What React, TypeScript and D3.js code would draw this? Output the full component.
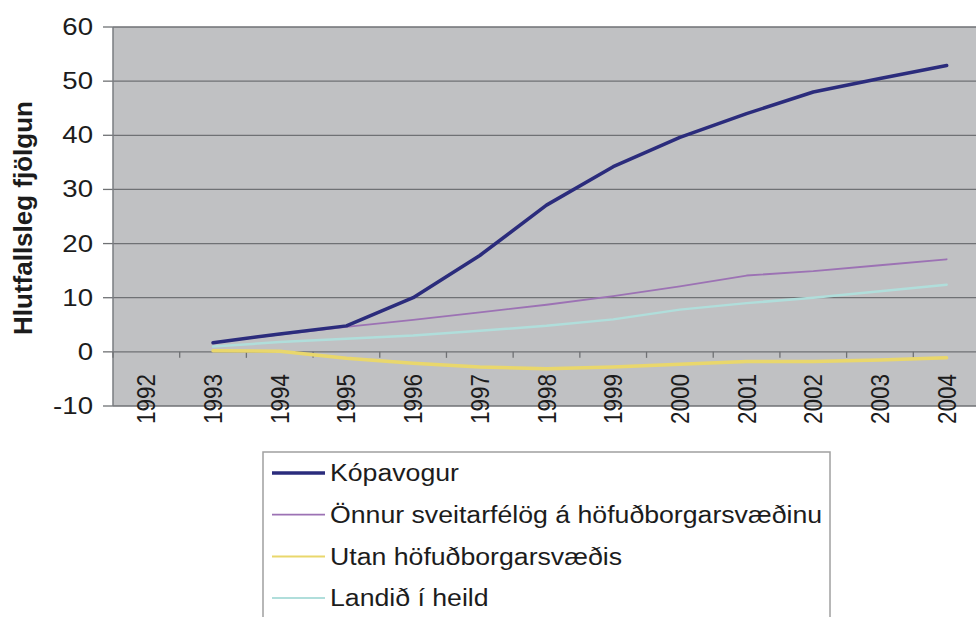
import React from "react";
import * as d3 from "d3";

const years = ["1992","1993","1994","1995","1996","1997","1998","1999","2000","2001","2002","2003","2004"];
const kopavogur = [null, 1.7, 3.3, 4.8, 10, 17.8, 27.1, 34.2, 39.6, 44, 48, 50.5, 52.9];
const onnur = [null, 1.7, 3.2, 4.6, 5.9, 7.3, 8.7, 10.3, 12.1, 14.1, 14.9, 16, 17.1];
const utan = [null, 0.2, 0.1, -1.2, -2.1, -2.8, -3.1, -2.8, -2.3, -1.8, -1.8, -1.5, -1.1];
const landid = [null, 1.0, 1.8, 2.4, 3.0, 3.9, 4.8, 6.0, 7.8, 9.0, 10.0, 11.2, 12.4];
const yTicks = [-10, 0, 10, 20, 30, 40, 50, 60];
const seriesNames = ["Kópavogur", "Önnur sveitarfélög á höfuðborgarsvæðinu", "Utan höfuðborgarsvæðis", "Landið í heild"];

const W = 976, H = 617;
const L = 113, R = 980, T = 27, B = 406;

export default function App() {
  const x = d3.scaleBand<string>().domain(years).range([L, R]).padding(0);
  const y = d3.scaleLinear().domain([-10, 60]).range([B, T]);
  const cx = (i: number) => (x(years[i]) as number) + x.bandwidth() / 2;

  const series = [
    { name: seriesNames[0], data: kopavogur, color: "#2b2c7c", width: 3.5, lw: 3.5 },
    { name: seriesNames[1], data: onnur, color: "#9c72b4", width: 1.8, lw: 1.8 },
    { name: seriesNames[2], data: utan, color: "#e9d76c", width: 3.5, lw: 2 },
    { name: seriesNames[3], data: landid, color: "#b0dedb", width: 2.5, lw: 2 },
  ];
  const drawOrder = [3, 2, 1, 0];

  const line = d3
    .line<number | null>()
    .defined((d) => d !== null)
    .x((_, i) => cx(i))
    .y((d) => y(d as number));

  const font = "'Liberation Sans', Arial, sans-serif";
  const txt = "#1c1c1c";

  return (
    <svg width={W} height={H} style={{ position: "absolute", left: 0, top: 0, background: "#fff" }} fontFamily={font}>
      <rect x={0} y={0} width={W} height={H} fill="#fff" />
      <rect x={L} y={T} width={R - L} height={B - T} fill="#c0c1c3" />
      {yTicks.map((t) => (
        <g key={t}>
          <line x1={L} x2={R} y1={y(t)} y2={y(t)} stroke="#6f7174" strokeWidth={1.3} />
          <line x1={L - 10} x2={L} y1={y(t)} y2={y(t)} stroke="#6f7174" strokeWidth={1.3} />
          <text transform={`translate(93,${y(t)}) scale(1.2,1)`} dy="0.35em" textAnchor="end" fontSize={23} fill={txt}>{t}</text>
        </g>
      ))}
      <line x1={L} x2={L} y1={T} y2={B} stroke="#7a7c80" strokeWidth={1.5} />
      {years.map((yr) => (
        <line key={"tk" + yr} x1={x(yr) as number} x2={x(yr) as number} y1={y(0)} y2={y(0) + 6} stroke="#6f7174" strokeWidth={1.3} />
      ))}
      {years.map((yr, i) => (
        <text
          key={yr}
          transform={`translate(${cx(i) + 9},${374}) scale(1.15,1) rotate(-90)`}
          textAnchor="end"
          fontSize={22.5}
          fill={txt}
        >
          {yr}
        </text>
      ))}
      {drawOrder.map((k) => (
        <path key={series[k].name} d={line(series[k].data) || ""} fill="none" stroke={series[k].color} strokeWidth={series[k].width} strokeLinejoin="round" strokeLinecap="round" />
      ))}
      <text transform={`translate(${32},${218}) rotate(-90)`} textAnchor="middle" fontSize={26} fontWeight="bold" fill={txt}>
        Hlutfallsleg fjölgun
      </text>
      <rect x={263} y={452} width={567} height={180} fill="#fff" stroke="#a0a0a0" strokeWidth={1.5} />
      {series.map((s, i) => (
        <g key={"lg" + s.name} transform={`translate(0,${473 + i * 41.7})`}>
          <line x1={272} x2={325} y1={0} y2={0} stroke={s.color} strokeWidth={s.lw} />
          <text transform="translate(330,0) scale(1.16,1)" dy="0.36em" fontSize={23} fill={txt}>{s.name}</text>
        </g>
      ))}
    </svg>
  );
}
